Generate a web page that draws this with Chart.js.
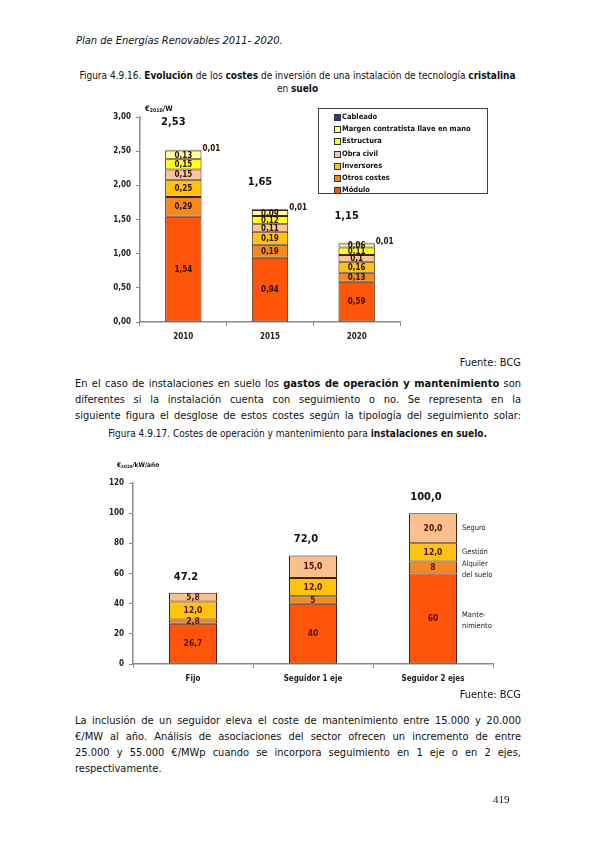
<!DOCTYPE html>
<html lang="es">
<head>
<meta charset="utf-8">
<title>Plan de Energías Renovables 2011- 2020</title>
<script src="https://cdn.jsdelivr.net/npm/chart.js@4.4.1/dist/chart.umd.min.js"></script>
<style>
  body { margin: 0; background: #fff; }
  #page { position: relative; width: 595px; height: 842px; overflow: hidden;
          font-family: "DejaVu Sans Condensed", "Liberation Sans", sans-serif; color: #111; }
  .abs { position: absolute; white-space: nowrap; }
  .line { position: absolute; left: 75px; width: 446px; font-size: 11px; line-height: 14px;
          text-align: justify; text-align-last: justify; }
  .line.last { text-align-last: left; }
  .cap { position: absolute; left: 0; width: 595px; text-align: center; font-size: 10px; }
  .fuente { position: absolute; right: 74px; font-size: 11px; }
  #legend1 { position: absolute; left: 318px; top: 108px; width: 170px; height: 86px;
             border: 1px solid #444; font-size: 7.5px; font-weight: bold; padding-top: 2px; box-sizing: border-box; }
  #legend1 div { height: 12.2px; line-height: 12.2px; padding-left: 23px; position: relative; }
  #legend1 span { position: absolute; left: 15px; top: 3px; width: 5px; height: 5px; border: 1px solid #333; }
  sub { font-size: 70%; vertical-align: -1px; }
</style>
</head>
<body>
<div id="page">
  <div class="abs" style="left:76px; top:34px; font-size:11px; font-style:italic;">Plan de Energías Renovables 2011- 2020.</div>

  <div class="cap" style="top:70px;">Figura 4.9.16. <b>Evolución</b> de los <b>costes</b> de inversión de una instalación de tecnología <b>cristalina</b></div>
  <div class="cap" style="top:83px;">en <b>suelo</b></div>

  <div style="position:absolute; left:90px; top:100px; width:410px; height:245px;">
    <canvas id="chart1" width="410" height="245"></canvas>
  </div>
  <div class="abs" style="left:145px; top:104px; font-size:7.5px; font-weight:bold;">€<sub>2010</sub>/W</div>
  <div id="legend1"></div>

  <div class="fuente" style="top:356px;">Fuente: BCG</div>

  <div class="line" style="top:377px;">En el caso de instalaciones en suelo los <b>gastos de operación y mantenimiento</b> son</div>
  <div class="line" style="top:393px;">diferentes si la instalación cuenta con seguimiento o no. Se representa en la</div>
  <div class="line" style="top:409px;">siguiente figura el desglose de estos costes según la tipología del seguimiento solar:</div>

  <div class="cap" style="top:428px;">Figura 4.9.17. Costes de operación y mantenimiento para <b>instalaciones en suelo.</b></div>

  <div style="position:absolute; left:80px; top:455px; width:440px; height:235px;">
    <canvas id="chart2" width="440" height="235"></canvas>
  </div>
  <div class="abs" style="left:117px; top:461px; font-size:6.5px; font-weight:bold;">€<sub>2010</sub>/kW/año</div>

  <div class="fuente" style="top:688px;">Fuente: BCG</div>

  <div class="line" style="top:714px;">La inclusión de un seguidor eleva el coste de mantenimiento entre 15.000 y 20.000</div>
  <div class="line" style="top:730px;">€/MW al año. Análisis de asociaciones del sector ofrecen un incremento de entre</div>
  <div class="line" style="top:746px;">25.000 y 55.000 €/MWp cuando se incorpora seguimiento en 1 eje o en 2 ejes,</div>
  <div class="line last" style="top:762px;">respectivamente.</div>

  <div class="abs" style="left:493px; top:793px; font-size:11px; font-family:'Liberation Serif', serif;">419</div>
</div>

<script>
// Figura 4.9.16 - costes de inversión (€2010/W)
const years = ["2010", "2015", "2020"];
const modulo = [1.54, 0.94, 0.59];
const otrosCostes = [0.29, 0.19, 0.13];
const inversores = [0.25, 0.19, 0.16];
const obraCivil = [0.15, 0.11, 0.10];
const estructura = [0.15, 0.12, 0.11];
const margen = [0.13, 0.09, 0.06];
const cableado = [0.01, 0.01, 0.01];
const totales = [2.53, 1.65, 1.15];
const yTicks1 = [0, 0.5, 1, 1.5, 2, 2.5, 3];

// Figura 4.9.17 - costes O&M (€2010/kW/año)
const tipos = ["Fijo", "Seguidor 1 eje", "Seguidor 2 ejes"];
const mantenimiento = [26.7, 40, 60];
const alquiler = [2.8, 5, 8];
const gestion = [12.0, 12.0, 12.0];
const seguro = [5.8, 15.0, 20.0];
const totalesOM = ["47.2", "72,0", "100,0"];
const yTicks2 = [0, 20, 40, 60, 80, 100, 120];

const FONT = "'DejaVu Sans Condensed', 'Liberation Sans', sans-serif";
const coma = (v) => String(v).replace(".", ",");
const axisGrey = "#8a8a8a";

function axes(maxY, step, yWidth, xHeight, fmt) {
  return {
    x: {
      stacked: true,
      grid: { drawOnChartArea: false, drawTicks: true, tickLength: 4, color: axisGrey, offset: true },
      border: { color: axisGrey, width: 1.5 },
      ticks: { color: "#222", font: { family: FONT, size: 8, weight: "bold" }, padding: 6 },
      afterFit: (s) => { s.height = xHeight; }
    },
    y: {
      stacked: true,
      min: 0, max: maxY,
      grid: { drawOnChartArea: false, drawTicks: true, tickLength: 4, color: axisGrey },
      border: { color: axisGrey, width: 1.5 },
      ticks: { stepSize: step, color: "#222", font: { family: FONT, size: 8, weight: "bold" }, padding: 5, callback: fmt },
      afterFit: (s) => { s.width = yWidth; }
    }
  };
}

// ---------- chart 1 ----------
const series1 = [
  { label: "Módulo", data: modulo, backgroundColor: "#ff550a" },
  { label: "Otros costes", data: otrosCostes, backgroundColor: "#f6881f" },
  { label: "Inversores", data: inversores, backgroundColor: "#ffc20e" },
  { label: "Obra civil", data: obraCivil, backgroundColor: "#fcc49c" },
  { label: "Estructura", data: estructura, backgroundColor: "#ffff1a" },
  { label: "Margen contratista llave en mano", data: margen, backgroundColor: "#ffff9c" },
  { label: "Cableado", data: cableado, backgroundColor: "#1c3f94", outside: true }
];

const labels1 = {
  id: "labels1",
  afterDatasetsDraw(chart) {
    const ctx = chart.ctx;
    ctx.save();
    ctx.fillStyle = "#2a1200";
    ctx.font = "bold 8px " + FONT;
    chart.data.datasets.forEach((ds, i) => {
      chart.getDatasetMeta(i).data.forEach((bar, j) => {
        const txt = coma(ds.data[j]);
        if (ds.outside) {
          ctx.textAlign = "left";
          ctx.textBaseline = "alphabetic";
          ctx.fillText(txt, bar.x + bar.width / 2 + 1, bar.y + 1);
        } else {
          ctx.textAlign = "center";
          ctx.textBaseline = "middle";
          ctx.fillText(txt, bar.x, (bar.y + bar.base) / 2 + 0.5);
        }
      });
    });
    // totals above each bar
    const meta = chart.getDatasetMeta(0);
    ctx.fillStyle = "#111";
    ctx.font = "bold 11px " + FONT;
    ctx.textAlign = "center";
    ctx.textBaseline = "middle";
    totales.forEach((t, j) => {
      ctx.fillText(coma(t), meta.data[j].x - 10, chart.scales.y.getPixelForValue(t + 0.4));
    });
    ctx.restore();
  }
};

new Chart(document.getElementById("chart1"), {
  type: "bar",
  data: {
    labels: years,
    datasets: series1.map((s) => ({
      ...s, borderColor: "#3a2410", borderWidth: 1, borderSkipped: false,
      barPercentage: 0.42, categoryPercentage: 1
    }))
  },
  options: {
    responsive: false,
    animation: false,
    layout: { padding: { top: 17, right: 100, left: 0, bottom: 0 } },
    plugins: { legend: { display: false }, tooltip: { enabled: false } },
    scales: axes(3, 0.5, 50, 23, (v) => v.toFixed(2).replace(".", ","))
  },
  plugins: [labels1]
});

// html legend, top to bottom as in the figure
const legend1 = document.getElementById("legend1");
series1.slice().reverse().forEach((s) => {
  const row = document.createElement("div");
  row.innerHTML = `<span style="background:${s.backgroundColor}"></span>${s.label}`;
  legend1.appendChild(row);
});

// ---------- chart 2 ----------
const series2 = [
  { label: "Mantenimiento", side: ["Mante-", "nimiento"], data: mantenimiento, backgroundColor: "#ff550a", fixed: false },
  { label: "Alquiler del suelo", side: ["Alquiler", "del suelo"], data: alquiler, backgroundColor: "#f6881f", fixed: false },
  { label: "Gestión", side: ["Gestión"], data: gestion, backgroundColor: "#ffc20e", fixed: true },
  { label: "Seguro", side: ["Seguro"], data: seguro, backgroundColor: "#fcbf8e", fixed: true }
];

const labels2 = {
  id: "labels2",
  afterDatasetsDraw(chart) {
    const ctx = chart.ctx;
    ctx.save();
    chart.data.datasets.forEach((ds, i) => {
      const bars = chart.getDatasetMeta(i).data;
      ctx.fillStyle = "#5a0f00";
      ctx.font = "bold 8.5px " + FONT;
      ctx.textAlign = "center";
      ctx.textBaseline = "middle";
      bars.forEach((bar, j) => {
        const v = ds.data[j];
        const txt = ds.fixed ? v.toFixed(1).replace(".", ",") : coma(v);
        ctx.fillText(txt, bar.x, (bar.y + bar.base) / 2 + 0.5);
      });
      // series name beside the last bar
      const last = bars[bars.length - 1];
      const mid = (last.y + last.base) / 2 + (ds.side.length > 1 ? 2 : 0);
      ctx.fillStyle = "#222";
      ctx.font = "7.5px " + FONT;
      ctx.textAlign = "left";
      ds.side.forEach((t, k) => {
        ctx.fillText(t, last.x + last.width / 2 + 5, mid + (k - (ds.side.length - 1) / 2) * 11.5);
      });
    });
    const meta = chart.getDatasetMeta(0);
    ctx.fillStyle = "#111";
    ctx.font = "bold 11px " + FONT;
    ctx.textAlign = "center";
    const sums = tipos.map((_, j) => chart.data.datasets.reduce((a, ds) => a + ds.data[j], 0));
    totalesOM.forEach((t, j) => {
      ctx.fillText(t, meta.data[j].x - 7, chart.scales.y.getPixelForValue(sums[j] + 10.5));
    });
    ctx.restore();
  }
};

new Chart(document.getElementById("chart2"), {
  type: "bar",
  data: {
    labels: tipos,
    datasets: series2.map((s) => ({
      ...s, borderColor: "#3a2410", borderWidth: 1, borderSkipped: false,
      barPercentage: 0.4, categoryPercentage: 1
    }))
  },
  options: {
    responsive: false,
    animation: false,
    layout: { padding: { top: 28, right: 27, left: 0, bottom: 0 } },
    plugins: { legend: { display: false }, tooltip: { enabled: false } },
    scales: axes(120, 20, 53, 26, (v) => v)
  },
  plugins: [labels2]
});
</script>
</body>
</html>
